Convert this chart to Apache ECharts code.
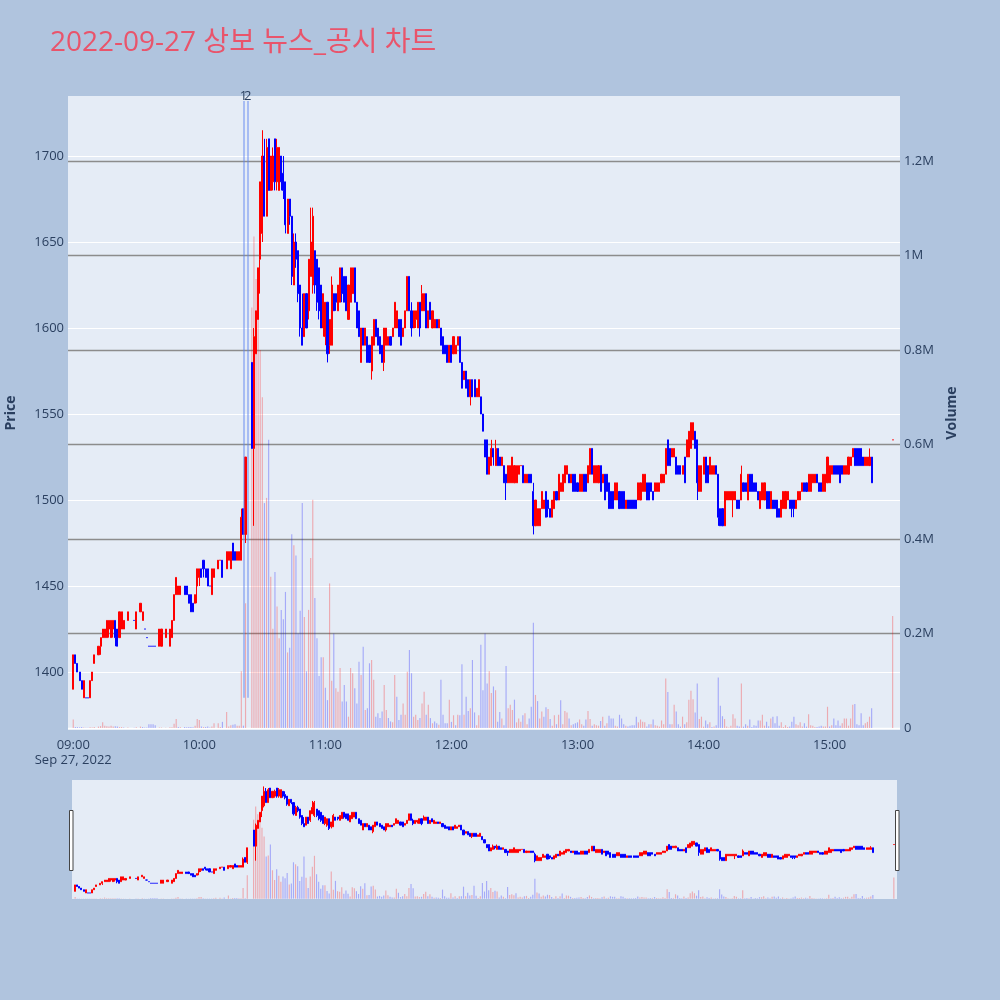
<!DOCTYPE html>
<html><head><meta charset="utf-8">
<script src="https://cdn.jsdelivr.net/npm/echarts@6/dist/echarts.min.js"></script>
<style>html,body{margin:0;padding:0;background:#b0c4de}#c{width:1000px;height:1000px}</style>
</head><body><div id="c"></div>
<script>
// index 0 = 09:00, one entry per minute: [open, close, low, high]
const candles = [
/*09:00*/ [1390,1410,1390,1410],[1410,1405,1405,1410],[1405,1400,1400,1405],[1400,1395,1395,1400],[1395,1390,1390,1395],
/*09:05*/ [1385,1395,1385,1395],[1385,1385,1385,1385],[1385,1385,1385,1385],[1385,1395,1385,1395],[1395,1400,1395,1400],
/*09:10*/ [1405,1410,1405,1410],null,[1410,1415,1410,1415],[1415,1420,1410,1420],[1420,1425,1420,1425],
/*09:15*/ [1420,1425,1420,1425],[1420,1430,1420,1430],[1425,1430,1420,1430],[1420,1430,1420,1430],[1425,1430,1420,1430],
/*09:20*/ [1430,1420,1415,1430],[1425,1415,1415,1425],[1420,1435,1420,1435],[1425,1435,1425,1435],[1425,1430,1425,1430],
/*09:25*/ null,[1430,1435,1430,1435],null,null,[1430,1430,1430,1430],
/*09:30*/ [1425,1435,1425,1435],null,[1435,1440,1435,1440],[1430,1435,1430,1435],[1425,1425,1425,1425],
/*09:35*/ [1420,1420,1420,1420],[1415,1415,1415,1415],[1415,1415,1415,1415],[1415,1415,1415,1415],[1415,1415,1415,1415],
/*09:40*/ null,[1415,1425,1415,1425],[1415,1425,1415,1425],null,[1420,1425,1420,1425],
/*09:45*/ null,[1415,1425,1415,1425],[1420,1430,1420,1430],[1430,1445,1430,1445],[1445,1455,1445,1455],
/*09:50*/ [1445,1450,1445,1450],[1445,1450,1445,1450],null,[1450,1445,1445,1450],[1450,1445,1445,1450],
/*09:55*/ [1445,1440,1440,1445],[1445,1435,1435,1445],[1440,1435,1435,1440],[1440,1445,1440,1445],[1450,1460,1440,1460],
/*10:00*/ [1455,1460,1450,1460],[1460,1455,1455,1460],[1465,1460,1455,1465],[1460,1455,1455,1460],[1460,1450,1450,1460],
/*10:05*/ [1450,1450,1450,1450],[1445,1460,1445,1460],[1455,1460,1455,1460],null,[1460,1465,1460,1465],
/*10:10*/ [1465,1465,1465,1465],[1465,1455,1455,1465],null,[1460,1470,1460,1470],[1465,1470,1465,1470],
/*10:15*/ [1460,1470,1460,1470],[1475,1465,1465,1475],[1470,1465,1465,1470],[1465,1470,1465,1470],[1465,1470,1465,1470],
/*10:20*/ [1465,1490,1465,1495],[1495,1480,1480,1495],[1480,1525,1475,1525],null,null,
/*10:25*/ [1580,1530,1530,1580],[1530,1595,1485,1600],[1585,1610,1585,1610],[1605,1635,1605,1635],[1640,1685,1620,1685],
/*10:30*/ [1655,1700,1650,1715],[1700,1665,1665,1710],[1665,1705,1665,1710],[1710,1680,1680,1710],[1680,1700,1680,1700],
/*10:35*/ [1685,1700,1680,1705],[1710,1685,1680,1710],[1685,1705,1680,1710],[1680,1705,1680,1705],[1700,1685,1680,1700],
/*10:40*/ [1690,1680,1675,1700],[1685,1660,1655,1685],[1655,1675,1655,1675],[1675,1665,1660,1675],[1665,1630,1625,1665],
/*10:45*/ [1625,1650,1625,1655],[1650,1640,1635,1655],[1645,1620,1615,1645],[1625,1600,1595,1625],[1600,1590,1590,1620],
/*10:50*/ [1595,1620,1595,1620],[1620,1600,1600,1620],[1610,1640,1605,1640],[1630,1650,1630,1670],[1625,1665,1620,1670],
/*10:55*/ [1645,1625,1620,1645],[1640,1615,1610,1640],[1635,1610,1605,1635],[1625,1600,1600,1625],[1600,1620,1595,1620],
/*11:00*/ [1595,1615,1590,1615],[1615,1585,1580,1615],[1590,1605,1585,1605],[1590,1625,1590,1630],[1620,1610,1610,1620],
/*11:05*/ [1620,1615,1610,1620],[1610,1625,1610,1625],[1615,1635,1615,1635],[1635,1620,1615,1635],[1630,1615,1615,1630],
/*11:10*/ [1630,1610,1610,1630],[1605,1625,1605,1625],[1615,1635,1615,1635],[1620,1635,1620,1635],[1635,1615,1615,1635],
/*11:15*/ [1615,1600,1600,1615],[1610,1595,1595,1610],[1580,1600,1580,1600],[1600,1590,1590,1600],[1590,1600,1590,1600],
/*11:20*/ [1595,1580,1580,1595],[1590,1580,1580,1590],[1575,1595,1570,1595],[1590,1605,1590,1605],[1605,1595,1595,1605],
/*11:25*/ [1600,1590,1590,1600],[1595,1585,1585,1595],[1590,1580,1580,1590],[1580,1600,1575,1600],[1590,1600,1590,1600],
/*11:30*/ [1590,1595,1590,1595],[1595,1590,1590,1595],[1595,1600,1595,1600],[1600,1615,1600,1615],[1600,1610,1600,1610],
/*11:35*/ [1605,1595,1595,1605],[1605,1590,1590,1605],[1595,1600,1595,1600],[1600,1610,1600,1610],[1610,1630,1610,1630],
/*11:40*/ [1630,1610,1610,1630],[1610,1600,1595,1615],[1600,1610,1600,1610],[1605,1610,1600,1610],[1600,1615,1600,1615],
/*11:45*/ [1615,1600,1595,1615],[1610,1620,1610,1625],[1610,1620,1610,1620],[1620,1600,1600,1620],[1600,1610,1600,1610],
/*11:50*/ [1615,1605,1605,1615],[1600,1610,1600,1610],[1600,1605,1600,1605],[1605,1600,1600,1605],[1600,1605,1600,1605],
/*11:55*/ [1600,1590,1590,1600],[1595,1585,1585,1595],[1590,1585,1585,1590],[1590,1580,1580,1590],[1580,1590,1580,1590],
/*12:00*/ [1590,1580,1580,1590],[1585,1595,1585,1595],[1585,1590,1585,1590],[1590,1595,1590,1595],[1595,1580,1580,1595],
/*12:05*/ [1580,1565,1565,1580],[1570,1575,1570,1575],[1575,1565,1565,1575],[1570,1560,1560,1570],[1560,1570,1555,1570],
/*12:10*/ [1570,1560,1560,1570],[1570,1560,1560,1570],[1560,1565,1560,1565],[1560,1570,1560,1570],[1560,1550,1550,1560],
/*12:15*/ [1550,1540,1540,1550],[1535,1525,1525,1535],[1535,1515,1515,1535],[1515,1525,1515,1525],[1520,1530,1520,1535],
/*12:20*/ [1530,1525,1520,1530],[1520,1530,1520,1535],[1530,1520,1520,1530],[1525,1520,1520,1525],[1520,1525,1520,1525],
/*12:25*/ [1520,1510,1510,1520],[1515,1510,1500,1515],[1510,1520,1510,1520],[1510,1520,1510,1520],[1510,1525,1510,1525],
/*12:30*/ [1510,1520,1510,1520],[1510,1520,1510,1520],[1515,1520,1515,1520],[1520,1520,1520,1520],[1520,1510,1510,1520],
/*12:35*/ [1510,1515,1510,1515],[1510,1515,1510,1515],[1515,1510,1510,1515],[1515,1510,1510,1515],[1505,1485,1480,1510],
/*12:40*/ [1485,1500,1485,1500],[1485,1495,1485,1495],[1485,1495,1485,1495],[1495,1505,1495,1505],[1495,1500,1495,1500],
/*12:45*/ [1505,1490,1490,1505],[1500,1495,1490,1500],[1495,1490,1490,1495],[1490,1500,1490,1500],[1495,1505,1495,1505],
/*12:50*/ [1505,1500,1500,1505],[1500,1515,1500,1515],[1505,1510,1505,1510],[1505,1515,1505,1515],[1510,1520,1510,1520],
/*12:55*/ [1515,1520,1515,1520],[1515,1510,1510,1515],[1510,1515,1510,1515],[1515,1505,1505,1515],[1515,1505,1505,1515],
/*13:00*/ [1510,1505,1505,1510],[1505,1515,1505,1515],[1505,1515,1505,1515],[1515,1505,1505,1515],[1515,1505,1505,1515],
/*13:05*/ [1510,1520,1510,1520],[1515,1530,1515,1530],[1530,1515,1515,1530],[1510,1520,1510,1520],[1510,1520,1510,1520],
/*13:10*/ [1510,1520,1510,1520],[1520,1505,1505,1520],[1510,1515,1510,1515],[1515,1500,1500,1515],[1515,1505,1505,1515],
/*13:15*/ [1510,1495,1495,1510],[1505,1495,1495,1505],[1505,1495,1495,1505],[1500,1510,1500,1510],[1500,1510,1500,1510],
/*13:20*/ [1505,1495,1495,1505],[1505,1495,1495,1505],[1505,1495,1495,1505],[1495,1500,1495,1500],[1500,1495,1495,1500],
/*13:25*/ [1500,1495,1495,1500],[1500,1495,1495,1500],[1500,1495,1495,1500],[1500,1495,1495,1500],[1500,1510,1500,1510],
/*13:30*/ [1500,1510,1500,1510],[1505,1515,1505,1515],[1505,1515,1505,1515],[1510,1500,1500,1510],[1510,1500,1500,1510],
/*13:35*/ [1510,1505,1505,1510],[1505,1500,1500,1505],[1505,1510,1505,1510],[1505,1510,1505,1510],[1505,1510,1505,1510],
/*13:40*/ [1510,1515,1510,1515],[1510,1515,1510,1515],[1515,1530,1515,1530],[1535,1520,1520,1535],[1530,1520,1520,1530],
/*13:45*/ [1525,1530,1525,1530],[1525,1530,1525,1530],[1525,1515,1515,1525],[1520,1515,1515,1520],[1520,1515,1515,1520],
/*13:50*/ [1515,1520,1515,1520],[1525,1510,1510,1525],[1525,1535,1525,1535],[1525,1540,1525,1540],[1530,1545,1530,1545],
/*13:55*/ [1535,1545,1535,1545],[1540,1530,1530,1540],[1535,1510,1500,1535],[1505,1520,1505,1520],[1505,1520,1505,1520],
/*14:00*/ [1515,1525,1515,1525],[1525,1510,1510,1525],[1520,1510,1510,1520],[1515,1525,1515,1525],[1515,1520,1515,1520],
/*14:05*/ [1515,1520,1515,1520],[1520,1515,1515,1520],[1515,1490,1485,1515],[1495,1485,1485,1495],[1495,1485,1485,1495],
/*14:10*/ [1485,1505,1485,1505],[1500,1505,1500,1505],[1500,1505,1500,1505],[1500,1505,1500,1505],[1500,1505,1490,1505],
/*14:15*/ [1500,1505,1500,1505],[1500,1495,1495,1500],[1500,1495,1495,1500],[1500,1515,1500,1520],[1510,1505,1505,1510],
/*14:20*/ [1510,1505,1505,1510],[1500,1515,1500,1515],[1515,1505,1505,1515],[1515,1505,1505,1515],[1510,1505,1505,1510],
/*14:25*/ [1510,1505,1505,1510],[1505,1500,1500,1505],[1495,1505,1495,1505],[1500,1510,1500,1510],[1500,1510,1500,1510],
/*14:30*/ [1505,1495,1495,1505],[1505,1495,1495,1505],[1495,1505,1495,1505],[1500,1495,1495,1500],[1500,1495,1495,1500],
/*14:35*/ [1500,1490,1490,1500],[1495,1490,1490,1495],[1490,1500,1490,1500],[1495,1505,1495,1505],[1495,1505,1495,1505],
/*14:40*/ [1500,1505,1500,1505],[1500,1495,1495,1500],[1500,1495,1490,1500],[1500,1495,1490,1500],[1495,1500,1495,1500],
/*14:45*/ [1500,1505,1500,1505],[1500,1505,1500,1505],[1505,1510,1505,1510],[1510,1505,1505,1510],[1510,1505,1505,1510],
/*14:50*/ [1505,1515,1505,1515],[1505,1515,1505,1515],[1510,1515,1510,1515],[1510,1515,1510,1515],[1515,1510,1510,1515],
/*14:55*/ [1510,1505,1505,1510],[1510,1505,1505,1510],[1505,1515,1505,1515],[1505,1515,1505,1515],[1510,1525,1510,1525],
/*15:00*/ [1510,1520,1510,1520],[1515,1520,1515,1520],[1520,1515,1515,1520],[1520,1515,1515,1520],[1520,1515,1515,1520],
/*15:05*/ [1520,1510,1510,1520],[1520,1515,1515,1520],[1515,1520,1515,1520],[1515,1520,1515,1520],[1515,1525,1515,1525],
/*15:10*/ [1520,1525,1520,1525],[1525,1530,1525,1530],[1530,1520,1520,1530],[1530,1520,1520,1530],[1530,1520,1520,1530],
/*15:15*/ [1530,1520,1520,1530],[1525,1520,1520,1525],[1520,1525,1520,1525],[1520,1525,1520,1525],[1520,1525,1520,1530],
/*15:20*/ [1525,1510,1510,1525],null,null,null,null,
/*15:25*/ null,null,null,null,null,
/*15:30*/ [1535,1535,1535,1535]
];
// shares traded per minute, same indexing
const volumes = [
/*09:00*/ 18000,2000,2000,1500,2000,
/*09:05*/ 1000,500,500,1500,1000,
/*09:10*/ 2000,null,3000,4000,12000,
/*09:15*/ 5000,4000,3000,5000,3000,
/*09:20*/ 4000,3000,2000,2000,1000,
/*09:25*/ null,1000,null,null,500,
/*09:30*/ 1500,null,3000,2000,1000,
/*09:35*/ 1000,8000,8000,8000,6000,
/*09:40*/ null,1000,1000,null,500,
/*09:45*/ null,1500,1500,9000,19000,
/*09:50*/ 2000,1500,null,2000,1500,
/*09:55*/ 2000,2000,1500,5000,19000,
/*10:00*/ 17000,3000,2000,2000,3000,
/*10:05*/ 1000,3000,10000,null,10000,
/*10:10*/ 2000,13000,null,34000,3000,
/*10:15*/ 6000,7000,8000,5000,5000,
/*10:20*/ 120000,5000,264000,null,null,
/*10:25*/ 890000,1040000,950000,890000,800000,
/*10:30*/ 700000,476000,487000,610000,320000,
/*10:35*/ 210000,330000,257000,190000,250000,
/*10:40*/ 230000,288000,160000,170000,410000,
/*10:45*/ 387000,365000,200000,248000,476000,
/*10:50*/ 235000,120000,250000,360000,483000,
/*10:55*/ 275000,190000,110000,150000,150000,
/*11:00*/ 85000,59000,306000,100000,200000,
/*11:05*/ 84000,77000,127000,56000,91000,
/*11:10*/ 56000,24000,127000,116000,84000,
/*11:15*/ 52000,140000,112000,172000,38000,
/*11:20*/ 42000,137000,144000,102000,24000,
/*11:25*/ 31000,21000,35000,91000,38000,
/*11:30*/ 21000,14000,12000,112000,66000,
/*11:35*/ 17000,28000,52000,28000,119000,
/*11:40*/ 165000,116000,24000,28000,17000,
/*11:45*/ 21000,52000,77000,28000,49000,
/*11:50*/ 21000,10000,14000,10000,7000,
/*11:55*/ 102000,28000,10000,10000,60000,
/*12:00*/ 13000,27000,6000,28000,27000,
/*12:05*/ 135000,28000,66000,36000,42000,
/*12:10*/ 144000,33000,6000,27000,176000,
/*12:15*/ 80000,200000,94000,120000,74000,
/*12:20*/ 88000,80000,13000,34000,20000,
/*12:25*/ 6000,131000,42000,49000,38000,
/*12:30*/ 60000,12000,20000,13000,27000,
/*12:35*/ 31000,8000,20000,45000,223000,
/*12:40*/ 70000,57000,20000,35000,24000,
/*12:45*/ 44000,40000,19000,5000,27000,
/*12:50*/ 8000,28000,59000,8000,36000,
/*12:55*/ 33000,20000,6000,8000,10000,
/*13:00*/ 12000,18000,8000,5000,18000,
/*13:05*/ 36000,19000,5000,8000,6000,
/*13:10*/ 5000,15000,24000,5000,10000,
/*13:15*/ 26000,20000,20000,5000,3000,
/*13:20*/ 28000,20000,8000,5000,3000,
/*13:25*/ 5000,6000,6000,24000,12000,
/*13:30*/ 18000,13000,12000,3000,8000,
/*13:35*/ 8000,18000,6000,5000,3000,
/*13:40*/ 16000,8000,105000,76000,8000,
/*13:45*/ 8000,49000,35000,8000,3000,
/*13:50*/ 24000,8000,12000,60000,79000,
/*13:55*/ 61000,33000,94000,19000,24000,
/*14:00*/ 3000,16000,8000,12000,2000,
/*14:05*/ 3000,6000,107000,47000,25000,
/*14:10*/ 19000,3000,1000,5000,29000,
/*14:15*/ 20000,5000,3000,94000,3000,
/*14:20*/ 8000,5000,18000,2000,6000,
/*14:25*/ 5000,16000,16000,28000,5000,
/*14:30*/ 13000,4000,20000,24000,10000,
/*14:35*/ 25000,5000,12000,2000,6000,
/*14:40*/ 2000,3000,13000,24000,8000,
/*14:45*/ 6000,12000,3000,10000,3000,
/*14:50*/ 29000,6000,5000,2000,2000,
/*14:55*/ 3000,5000,3000,3000,45000,
/*15:00*/ 3000,6000,20000,6000,16000,
/*15:05*/ 5000,10000,20000,20000,5000,
/*15:10*/ 20000,49000,51000,8000,6000,
/*15:15*/ 31000,6000,10000,13000,24000,
/*15:20*/ 42000,null,null,null,null,
/*15:25*/ null,null,null,null,null,
/*15:30*/ 237000
];
const newsTimes = ['10:21', '10:23'];
const newsLabels = ['1', '2'];
const newsLineRange = [1385, 1732];
const priceTicks = [1400, 1450, 1500, 1550, 1600, 1650, 1700];
const volumeTicks = [0, 200000, 400000, 600000, 800000, 1000000, 1200000];
const priceRange = [1366.3, 1734.9];
const volumeRange = [-4200, 1337500];

const FONT = '"Open Sans","Noto Sans CJK KR",sans-serif';
const TXT = '#2a3f5f';
const UP = '#ff0000', DOWN = '#0000ff';

function fmt(t){const h=Math.floor(t/60),m=t%60;return String(h).padStart(2,'0')+':'+String(m).padStart(2,'0');}
const firstMin = 8*60+58, lastMin = 15*60+33, open0 = 9*60;
const cats = [];
for (let t=firstMin;t<=lastMin;t++) cats.push(fmt(t));
const off = open0 - firstMin;

const candleData = cats.map(()=> '-');
const volData = cats.map(()=> '-');
let prevClose = null, prevDir = 1;
candles.forEach((c,i)=>{
  if(!c) return;
  const [o,cl,l,h] = c;
  let dir;
  if (cl>o) dir=1; else if (cl<o) dir=-1;
  else dir = prevClose==null ? prevDir : (cl>prevClose?1:(cl<prevClose?-1:prevDir));
  const col = dir>0?UP:DOWN;
  candleData[i+off] = {value:[o,cl,l,h], itemStyle:{color:col,color0:col,borderColor:col,borderColor0:col,borderWidth:1}};
  const vdir = prevClose==null ? dir : (cl>prevClose?1:(cl<prevClose?-1:dir));
  volData[i+off] = {value: volumes[i], itemStyle:{color: vdir>0?'rgba(255,0,0,0.28)':'rgba(0,0,255,0.28)'}};
  prevClose = cl; prevDir = dir;
});

const chart = echarts.init(document.getElementById('c'), null, {renderer:'canvas'});
const option = {
  animation:false,
  backgroundColor:'#b0c4de',
  textStyle:{fontFamily:FONT},
  title:{text:'2022-09-27 상보 뉴스_공시 차트', left:45, top:24,
    textStyle:{color:'#e9546b', fontSize:28, fontWeight:'normal', fontFamily:FONT}},
  grid:[
    {left:68, right:100, top:96, height:634, show:true, backgroundColor:'#e5ecf6', borderWidth:0, containLabel:false, outerBoundsMode:'none'},
    {left:72, right:103, top:780, height:119, show:true, backgroundColor:'#e5ecf6', borderWidth:0, containLabel:false, outerBoundsMode:'none'}
  ],
  xAxis:[
    {type:'category', gridIndex:0, data:cats, boundaryGap:true,
      axisLine:{show:false}, axisTick:{show:false}, splitLine:{show:false},
      axisLabel:{interval:(i,v)=>v.endsWith(':00'), formatter:v=> v==='09:00' ? '09:00\nSep 27, 2022' : v,
        color:TXT, fontSize:13, margin:8, lineHeight:15, fontFamily:FONT, hideOverlap:false}},
    {type:'category', gridIndex:1, data:cats, boundaryGap:true, min:1, max:cats.length-3,
      axisLine:{show:false}, axisTick:{show:false}, axisLabel:{show:false}, splitLine:{show:false}}
  ],
  yAxis:[
    {type:'value', gridIndex:0, position:'left', min:priceRange[0], max:priceRange[1],
      axisLine:{show:false}, axisTick:{show:false, customValues:priceTicks},
      axisLabel:{customValues:priceTicks, color:TXT, fontSize:13, margin:4, fontFamily:FONT, formatter:v=>String(v)},
      splitLine:{show:true, lineStyle:{color:'#ffffff', width:1}},
      name:'Price', nameLocation:'middle', nameGap:50, nameRotate:90,
      nameTextStyle:{color:TXT, fontSize:14, fontWeight:'bold', fontFamily:FONT}},
    {type:'value', gridIndex:0, position:'right', min:volumeRange[0], max:volumeRange[1],
      axisLine:{show:false}, axisTick:{show:false, customValues:volumeTicks},
      axisLabel:{customValues:volumeTicks, color:TXT, fontSize:13, margin:4, fontFamily:FONT,
        formatter:v=> v===0 ? '0' : (v/1e6)+'M'},
      splitLine:{show:true, lineStyle:{color:['#ffffff','#8c8c8c','#8c8c8c','#8c8c8c','#8c8c8c','#8c8c8c','#8c8c8c'], width:1.3}},
      name:'Volume', nameLocation:'middle', nameGap:44, nameRotate:90,
      nameTextStyle:{color:TXT, fontSize:14, fontWeight:'bold', fontFamily:FONT}},
    {type:'value', gridIndex:1, min:priceRange[0], max:priceRange[1], show:false, splitLine:{show:false}},
    {type:'value', gridIndex:1, min:volumeRange[0], max:volumeRange[1], show:false, splitLine:{show:false}}
  ],
  series:[
    {type:'bar', name:'vol', xAxisIndex:0, yAxisIndex:1, data:volData, barWidth:'55%', z:2, silent:true},
    {type:'candlestick', name:'price', xAxisIndex:0, yAxisIndex:0, data:candleData, barWidth:'75%', z:3, silent:true,
      markLine:{symbol:['none','none'], silent:true, animation:false, z:4,
        lineStyle:{color:'rgba(90,130,240,0.45)', width:2, type:'solid'},
        label:{show:true, position:'end', formatter:'{b}', color:TXT, fontSize:13, distance:-2, fontFamily:FONT},
        data: newsTimes.map((t,i)=>[{coord:[t,newsLineRange[0]], name:newsLabels[i]},{coord:[t,newsLineRange[1]]}])}},
    {type:'bar', xAxisIndex:1, yAxisIndex:3, data:volData, barWidth:'55%', z:2, silent:true},
    {type:'candlestick', xAxisIndex:1, yAxisIndex:2, data:candleData, barWidth:'75%', z:3, silent:true}
  ],
  graphic:[
    {type:'rect', shape:{x:69.5, y:810.5, width:3.5, height:60}, style:{fill:'#ffffff', stroke:'#444', lineWidth:1}, z:10},
    {type:'rect', shape:{x:895.5, y:810.5, width:3.5, height:60}, style:{fill:'#ffffff', stroke:'#444', lineWidth:1}, z:10}
  ]
};
chart.setOption(option);
</script>
</body></html>
